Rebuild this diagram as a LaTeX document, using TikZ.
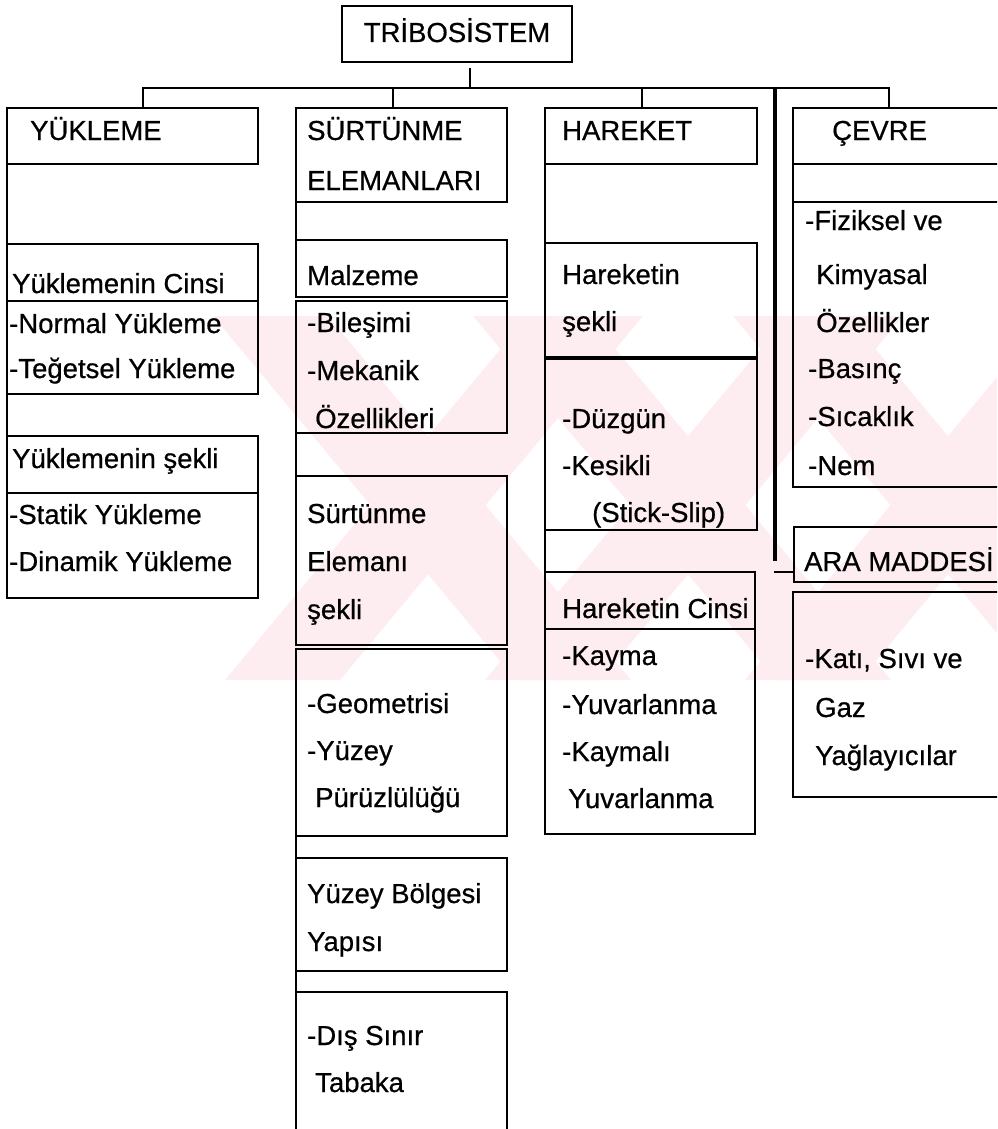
\documentclass[tikz,border=0pt]{standalone}
\usepackage{fontspec}
\setmainfont{Liberation Sans}[BoldFont={Liberation Sans}, BoldFeatures={FakeBold=0.6}]
\usetikzlibrary{calc}
\definecolor{wm}{RGB}{253,236,240}
\newcommand\boxat[5]{\node[box, minimum width={#4-#2}, minimum height={#5-#3}] (#1) at (#2,#3) {};}
\newcommand\tline[4]{\node[txt] (#1) at (#2,#3) {#4};}
\begin{document}
\begin{tikzpicture}[x=1pt,y=-1pt,
  box/.style={draw=black, line width=2.3pt, rectangle, inner sep=0pt, outer sep=0pt, anchor=north west},
  conn/.style={draw=black, line width=2.3pt, line cap=rect},
  thickconn/.style={draw=black, line width=3.6pt},
  txt/.style={inner sep=0pt, anchor=base west, font=\fontsize{27.5}{33}\selectfont\bfseries},
]
\useasboundingbox (0,0) rectangle (997,1129);
\clip (0,0) rectangle (997,1129);
% watermark band
\begin{scope}
\clip (213,316) rectangle (997,680);
\foreach \a in {213,473,733} { \fill[wm] (\a,316) -- (\a+115,316) -- (\a+418,680) -- (\a+303,680) -- cycle; }
\foreach \b in {225,485,745} { \fill[wm] (\b,680) -- (\b+115,680) -- (\b+418,316) -- (\b+303,316) -- cycle; }
\end{scope}
% boxes
\boxat{tri}{342}{6}{572}{62}
\boxat{yuk}{7}{108}{258}{164}
\boxat{ycins}{7}{244}{258}{301}
\boxat{ycinsl}{7}{301}{258}{394}
\boxat{ysek}{7}{436}{258}{493}
\boxat{ysekl}{7}{493}{258}{598}
\boxat{sur}{296}{108}{507}{202}
\boxat{malz}{296}{240}{507}{297}
\boxat{malzl}{296}{301}{507}{433}
\boxat{selm}{296}{476}{507}{645}
\boxat{seliml}{296}{649}{507}{836}
\boxat{ybol}{296}{858}{507}{971}
\boxat{dis}{296}{992}{507}{1140}
\boxat{har}{545}{108}{757}{164}
\boxat{hsek}{545}{243}{757}{357}
\boxat{hsekl}{545}{359}{757}{530}
\boxat{hcins}{545}{572}{755}{629}
\boxat{hcinsl}{545}{629}{755}{834}
\boxat{cev}{793}{108}{1010}{164}
\boxat{cevl}{793}{202}{1010}{487}
\boxat{ara}{794}{527}{1010}{582}
\boxat{aral}{793}{592}{1010}{797}
% texts
\node[txt, anchor=base] (triT) at (457,42) {TRİBOSİSTEM};
\tline{tYuk}{30}{140}{YÜKLEME}
\tline{tYc}{12}{293}{Yüklemenin Cinsi}
\tline{tYca}{9}{333}{-Normal Yükleme}
\tline{tYcb}{9}{378}{-Teğetsel Yükleme}
\tline{tYs}{12}{468}{Yüklemenin şekli}
\tline{tYsa}{9}{524}{-Statik Yükleme}
\tline{tYsb}{9}{571}{-Dinamik Yükleme}
\tline{tSa}{307}{140}{SÜRTÜNME}
\tline{tSb}{307}{190}{ELEMANLARI}
\tline{tM}{307}{285}{Malzeme}
\tline{tMa}{307}{332}{-Bileşimi}
\tline{tMb}{307}{380}{-Mekanik}
\tline{tMc}{315}{428}{Özellikleri}
\tline{tEa}{307}{523}{Sürtünme}
\tline{tEb}{307}{571}{Elemanı}
\tline{tEc}{307}{619}{şekli}
\tline{tGa}{307}{713}{-Geometrisi}
\tline{tGb}{307}{760}{-Yüzey}
\tline{tGc}{315}{807}{Pürüzlülüğü}
\tline{tBa}{307}{903}{Yüzey Bölgesi}
\tline{tBb}{307}{951}{Yapısı}
\tline{tDa}{307}{1045}{-Dış Sınır}
\tline{tDb}{315}{1092}{Tabaka}
\tline{tH}{562}{140}{HAREKET}
\tline{tHsa}{562}{284}{Hareketin}
\tline{tHsb}{562}{331}{şekli}
\tline{tHda}{562}{428}{-Düzgün}
\tline{tHdb}{562}{475}{-Kesikli}
\tline{tHdc}{592}{522}{(Stick-Slip)}
\tline{tHc}{562}{618}{Hareketin Cinsi}
\tline{tHka}{562}{665}{-Kayma}
\tline{tHkb}{562}{714}{-Yuvarlanma}
\tline{tHkc}{562}{761}{-Kaymalı}
\tline{tHkd}{568}{808}{Yuvarlanma}
\tline{tC}{832}{140}{ÇEVRE}
\tline{tCa}{805}{230}{-Fiziksel ve}
\tline{tCb}{816}{284}{Kimyasal}
\tline{tCc}{816}{332}{Özellikler}
\tline{tCd}{808}{378}{-Basınç}
\tline{tCe}{808}{426}{-Sıcaklık}
\tline{tCf}{808}{475}{-Nem}
\tline{tA}{804}{571}{ARA MADDESİ}
\tline{tAa}{805}{668}{-Katı, Sıvı ve}
\tline{tAb}{815}{717}{Gaz}
\tline{tAc}{815}{765}{Yağlayıcılar}
% tree connectors
\coordinate (triS) at (470,69);
\coordinate (bT) at (470,88);
\coordinate (bL) at (143,88);
\coordinate (bR) at (889,88);
\coordinate (b2) at (393,88);
\coordinate (b3) at (642,88);
\coordinate (b5) at (775,88);
\coordinate (b5e) at (775,561);
\coordinate (araIn) at (775,572);
\draw[conn] (triS) -- (bT);
\draw[conn] (bL) -- (bR);
\draw[conn] (bL) -- (bL |- yuk.north);
\draw[conn] (b2) -- (b2 |- sur.north);
\draw[conn] (b3) -- (b3 |- har.north);
\draw[conn] (bR) -- (bR |- cev.north);
\draw[thickconn] (b5) -- (b5e);
\draw[conn] (araIn) -- (araIn -| ara.west);
% left-edge connectors
\draw[conn] (yuk.south west) -- (ycins.north west);
\draw[conn] (ycinsl.south west) -- (ysek.north west);
\draw[conn] (sur.south west) -- (malz.north west);
\draw[conn] (malzl.south west) -- (selm.north west);
\draw[conn] (seliml.south west) -- (ybol.north west);
\draw[conn] (ybol.south west) -- (dis.north west);
\draw[conn] (har.south west) -- (hsek.north west);
\draw[conn] (hsekl.south west) -- (hcins.north west);
\draw[conn] (cev.south west) -- (cevl.north west);
\end{tikzpicture}
\end{document}
